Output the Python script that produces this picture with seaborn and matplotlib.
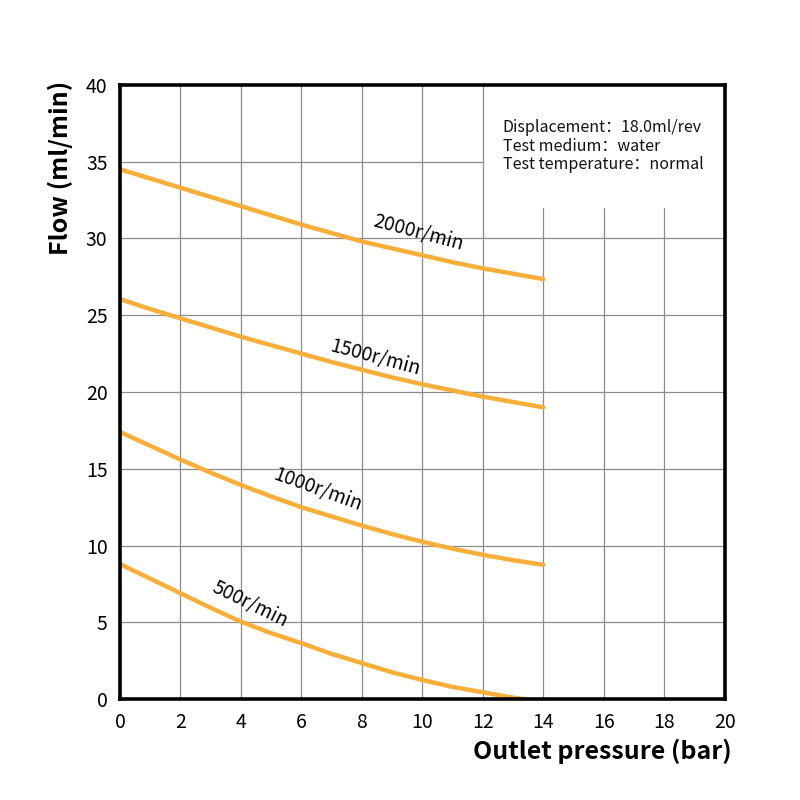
import matplotlib
matplotlib.use("Agg")
import matplotlib.pyplot as plt
import seaborn as sns
import pandas as pd

sns.set_theme(style="white")
plt.rcParams['font.family'] = ['Noto Sans CJK SC', 'DejaVu Sans']

pressure = [0, 1, 2, 3, 4, 5, 6, 7, 8, 9, 10, 11, 12, 13, 14]
flow_2000 = [34.5, 33.9, 33.3, 32.7, 32.1, 31.5, 30.9, 30.35, 29.8, 29.35, 28.9, 28.45, 28.05, 27.7, 27.35]
flow_1500 = [26.05, 25.4, 24.8, 24.2, 23.6, 23.05, 22.5, 21.95, 21.45, 20.95, 20.5, 20.1, 19.7, 19.35, 19.0]
flow_1000 = [17.4, 16.5, 15.6, 14.75, 13.95, 13.2, 12.5, 11.9, 11.3, 10.75, 10.25, 9.8, 9.4, 9.05, 8.75]
pressure_500 = [0, 1, 2, 3, 4, 5, 6, 7, 8, 9, 10, 11, 12, 13, 13.4]
flow_500 = [8.8, 7.85, 6.9, 5.95, 5.05, 4.3, 3.65, 2.95, 2.35, 1.75, 1.25, 0.8, 0.45, 0.1, 0.0]

speed_labels = ["2000r/min", "1500r/min", "1000r/min", "500r/min"]
label_pos = [(9.85, 30.35, -15), (8.45, 22.25, -15), (6.55, 13.65, -20), (4.3, 6.15, -26)]

x_ticks = [0, 2, 4, 6, 8, 10, 12, 14, 16, 18, 20]
y_ticks = [0, 5, 10, 15, 20, 25, 30, 35, 40]

info_lines = ["Displacement：18.0ml/rev", "Test medium：water", "Test temperature：normal"]

rows = []
for s, xs, ys in [(speed_labels[0], pressure, flow_2000),
                  (speed_labels[1], pressure, flow_1500),
                  (speed_labels[2], pressure, flow_1000),
                  (speed_labels[3], pressure_500, flow_500)]:
    for x, y in zip(xs, ys):
        rows.append({"speed": s, "pressure": x, "flow": y})
df = pd.DataFrame(rows)

fig = plt.figure(figsize=(8, 8), dpi=100)
ax = fig.add_axes([0.15, 0.126, 0.756, 0.768])

grid_c = "#8c8c8c"
for x in x_ticks[1:-1]:
    top = 32 if x >= 14 else 40
    ax.plot([x, x], [0, top], color=grid_c, lw=0.9, zorder=1)
for y in y_ticks[1:-1]:
    right = 12 if y == 35 else 20
    ax.plot([0, right], [y, y], color=grid_c, lw=0.9, zorder=1)

sns.lineplot(data=df, x="pressure", y="flow", units="speed", estimator=None,
             color="#F8AE3A", lw=3.2, ax=ax, zorder=3, sort=False)

for lab, (lx, ly, rot) in zip(speed_labels, label_pos):
    ax.text(lx, ly, lab, rotation=rot, fontsize=13.8, ha="center", va="center",
            color="black", zorder=4, rotation_mode="anchor")

ax.text(0.633, 0.945, "\n".join(info_lines), transform=ax.transAxes,
        fontsize=11.5, va="top", ha="left", linespacing=1.15, color="#111111")

ax.set_xlim(0, 20)
ax.set_ylim(0, 40)
ax.set_xticks(x_ticks)
ax.set_yticks(y_ticks)
ax.tick_params(axis="both", labelsize=14, length=0, colors="black")
ax.tick_params(axis="x", pad=9)
ax.tick_params(axis="y", pad=9)
for sp in ax.spines.values():
    sp.set_color("black")
    sp.set_linewidth(2.6)
    sp.set_zorder(5)

ax.set_xlabel("Outlet pressure (bar)", fontsize=18, fontweight="bold", color="black")
ax.set_ylabel("Flow (ml/min)", fontsize=18, fontweight="bold", color="black")
ax.xaxis.set_label_coords(0.798, -0.064)
ax.yaxis.set_label_coords(-0.077, 0.865)

fig.savefig("out.png", dpi=100)
